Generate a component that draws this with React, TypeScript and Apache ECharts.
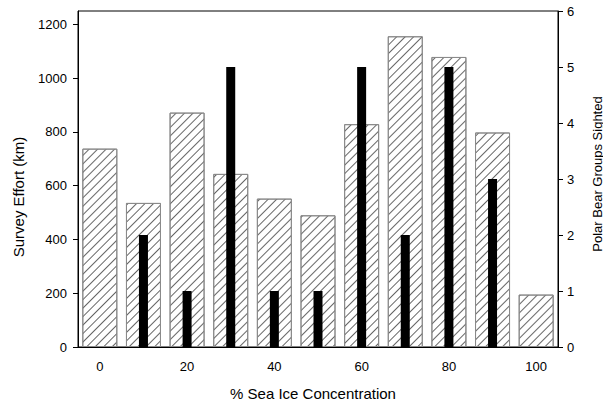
import React, { useEffect, useRef } from "react";
import * as echarts from "echarts";

const categories = ["0", "10", "20", "30", "40", "50", "60", "70", "80", "90", "100"];
const surveyEffort = [738, 536, 872, 644, 552, 490, 829, 1156, 1079, 798, 195];
const bearGroups = [0, 2, 1, 5, 1, 1, 5, 2, 5, 3, 0];
const leftTicks = [0, 200, 400, 600, 800, 1000, 1200];

const xTitle = "% Sea Ice Concentration";
const leftTitle = "Survey Effort (km)";
const rightTitle = "Polar Bear Groups Sighted";

const FONT = "Liberation Sans, Arial, sans-serif";

export default function App() {
  const ref = useRef<HTMLDivElement>(null);
  useEffect(() => {
    if (!ref.current) return;
    const chart = echarts.init(ref.current, undefined, { renderer: "svg" });
    const labelStyle = { color: "#000", fontSize: 13, fontFamily: FONT };
    chart.setOption({
      animation: false,
      backgroundColor: "#fff",
      textStyle: { fontFamily: FONT },
      grid: {
        left: 78,
        right: 45,
        top: 11,
        bottom: 57,
        show: true,
        borderColor: "#000",
        borderWidth: 1,
        backgroundColor: "transparent",
      },
      graphic: [
        {
          type: "text",
          x: 313,
          y: 393,
          style: {
            text: xTitle,
            fontSize: 15,
            fontFamily: FONT,
            fill: "#000",
            align: "center",
            verticalAlign: "middle",
          },
        },
        {
          type: "text",
          x: 18,
          y: 197,
          rotation: Math.PI / 2,
          style: {
            text: leftTitle,
            fontSize: 15,
            fontFamily: FONT,
            fill: "#000",
            align: "center",
            verticalAlign: "middle",
          },
        },
        {
          type: "text",
          x: 597,
          y: 174,
          rotation: Math.PI / 2,
          style: {
            text: rightTitle,
            fontSize: 13,
            fontFamily: FONT,
            fill: "#000",
            align: "center",
            verticalAlign: "middle",
          },
        },
      ],
      xAxis: [
        {
          type: "category",
          data: categories,
          boundaryGap: true,
          axisLine: { lineStyle: { color: "#000", width: 1 } },
          axisTick: { interval: 1, alignWithLabel: true, length: 5, lineStyle: { color: "#000" } },
          axisLabel: { ...labelStyle, interval: 1, margin: 13 },
          splitLine: { show: false },
        },
        {
          type: "category",
          data: categories,
          boundaryGap: true,
          show: false,
        },
      ],
      yAxis: [
        {
          type: "value",
          min: 0,
          max: 1250,
          interval: 200,
          axisLine: { show: true, lineStyle: { color: "#000", width: 1 } },
          axisTick: { show: true, length: 5, customValues: leftTicks, lineStyle: { color: "#000" } },
          axisLabel: {
            ...labelStyle,
            margin: 11,
            customValues: leftTicks,
            formatter: (v: number) => String(v),
          },
          splitLine: { show: false },
        },
        {
          type: "value",
          min: 0,
          max: 6,
          interval: 1,
          position: "right",
          axisLine: { show: true, lineStyle: { color: "#000", width: 1 } },
          axisTick: { show: true, length: 5, lineStyle: { color: "#000" } },
          axisLabel: { ...labelStyle, margin: 9 },
          splitLine: { show: false },
        },
      ],
      series: [
        {
          type: "bar",
          name: "Survey Effort",
          xAxisIndex: 0,
          yAxisIndex: 0,
          data: surveyEffort,
          barWidth: 35,
          itemStyle: {
            color: "#fff",
            borderColor: "#8a8a8a",
            borderWidth: 1,
            decal: {
              symbol: "rect",
              symbolSize: 1,
              dashArrayX: [1, 0],
              dashArrayY: [1, 4.5],
              rotation: -Math.PI / 4,
              color: "#666",
            },
          },
          z: 1,
        },
        {
          type: "bar",
          name: "Polar Bear Groups",
          xAxisIndex: 1,
          yAxisIndex: 1,
          data: bearGroups,
          barWidth: 9,
          itemStyle: { color: "#000" },
          z: 2,
        },
      ],
    });
    return () => chart.dispose();
  }, []);
  return <div ref={ref} style={{ width: 603, height: 404, position: "absolute", left: 0, top: 0 }} />;
}
